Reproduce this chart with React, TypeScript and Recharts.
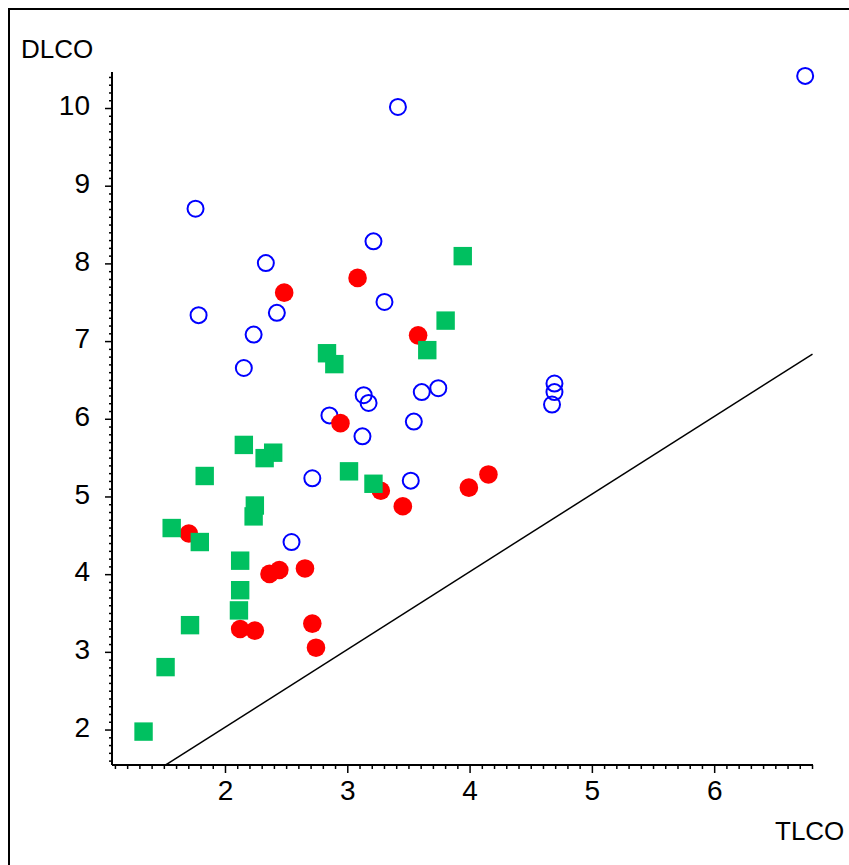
import React from 'react';
import { ScatterChart, Scatter, XAxis, YAxis, ReferenceLine } from 'recharts';

// open circles (blue)
const openTlco = [6.74, 3.41, 1.755, 3.21, 2.33, 3.3, 1.78, 2.42, 2.23, 2.15, 4.69, 4.69, 3.74, 3.605, 4.67, 3.13, 3.17, 2.85, 3.54, 3.12, 2.71, 3.515, 2.54];
const openDlco = [10.42, 10.02, 8.71, 8.29, 8.01, 7.51, 7.34, 7.37, 7.09, 6.66, 6.46, 6.35, 6.4, 6.35, 6.19, 6.31, 6.21, 6.05, 5.97, 5.78, 5.24, 5.21, 4.42];

// filled circles (red)
const redTlco = [2.48, 3.08, 3.575, 2.94, 3.27, 3.45, 3.99, 4.15, 1.7, 2.36, 2.44, 2.65, 2.12, 2.24, 2.71, 2.74];
const redDlco = [7.63, 7.82, 7.08, 5.95, 5.08, 4.88, 5.12, 5.29, 4.53, 4.01, 4.06, 4.08, 3.3, 3.28, 3.37, 3.06];

// filled squares (green)
const greenTlco = [1.33, 1.51, 1.71, 2.11, 2.12, 2.12, 1.56, 1.79, 2.23, 2.24, 1.83, 2.15, 2.39, 2.32, 2.83, 2.89, 3.01, 3.21, 3.65, 3.8, 3.94];
const greenDlco = [1.98, 2.81, 3.35, 3.54, 3.8, 4.18, 4.6, 4.42, 4.75, 4.89, 5.27, 5.67, 5.57, 5.5, 6.85, 6.71, 5.33, 5.17, 6.89, 7.27, 8.1];

const xDomain = [1.072, 6.804];
const yDomain = [1.55, 10.47];
// diagonal reference line ends (TLCO, DLCO)
const lineTlco = [1.51, 6.8];
const lineDlco = [1.55, 6.84];

const FONT = '"Liberation Sans", Arial, sans-serif';

const openRows = openTlco.map((x, i) => ({ tlco: x, dlco: openDlco[i] }));
const redRows = redTlco.map((x, i) => ({ tlco: x, dlco: redDlco[i] }));
const greenRows = greenTlco.map((x, i) => ({ tlco: x, dlco: greenDlco[i] }));

// 0.1 step ticks, labels only on whole numbers
const xTicks: number[] = [];
for (let i = 11; i <= 68; i++) xTicks.push(i / 10);
const yTicks: number[] = [];
for (let i = 16; i <= 104; i++) yTicks.push(i / 10);

const isWhole = (v: number) => Math.abs(v - Math.round(v)) < 1e-6;

const XTick = (props: any) => {
    const { x, y, payload } = props;
    const major = isWhole(payload.value);
    return (
        <g>
            <line x1={x} y1={y} x2={x} y2={y + (major ? 8 : 4)} stroke="#000" strokeWidth={1.5} />
            {major && (
                <text x={x} y={y + 34.5} textAnchor="middle" fontSize={28} fontFamily={FONT} fill="#000">
                    {Math.round(payload.value)}
                </text>
            )}
        </g>
    );
};

const YTick = (props: any) => {
    const { x, y, payload } = props;
    const major = isWhole(payload.value);
    return (
        <g>
            <line x1={x} y1={y} x2={x - (major ? 7 : 3)} y2={y} stroke="#000" strokeWidth={1.5} />
            {major && (
                <text x={x - 22} y={y + 6.7} textAnchor="end" fontSize={28} fontFamily={FONT} fill="#000">
                    {Math.round(payload.value)}
                </text>
            )}
        </g>
    );
};

const OpenCircle = (p: any) => <circle cx={p.cx} cy={p.cy} r={8} fill="none" stroke="#0000ff" strokeWidth={2} />;
const RedDot = (p: any) => <circle cx={p.cx} cy={p.cy} r={9.3} fill="#ff0000" />;
const GreenSquare = (p: any) => <rect x={p.cx - 9.2} y={p.cy - 9.2} width={18.4} height={18.4} fill="#00c060" />;

export default function App() {
    return (
        <div style={{ position: 'fixed', left: 0, top: 0, width: 849, height: 865, background: '#fff', overflow: 'hidden' }}>
            <div style={{ position: 'absolute', left: 8, top: 8, width: 900, height: 900, border: '2px solid #000', boxSizing: 'border-box' }} />
            <div style={{ position: 'absolute', left: 0, top: 0 }}>
                <ScatterChart width={849} height={865} margin={{ top: 72, left: 52, right: 36, bottom: 70 }}>
                    <XAxis
                        type="number"
                        dataKey="tlco"
                        domain={xDomain}
                        ticks={xTicks}
                        interval={0}
                        tickSize={0}
                        tickMargin={0}
                        tickLine={false}
                        axisLine={{ stroke: '#000', strokeWidth: 2 }}
                        tick={<XTick />}
                        height={30}
                    />
                    <YAxis
                        type="number"
                        dataKey="dlco"
                        domain={yDomain}
                        ticks={yTicks}
                        interval={0}
                        tickSize={0}
                        tickMargin={0}
                        tickLine={false}
                        axisLine={{ stroke: '#000', strokeWidth: 2 }}
                        tick={<YTick />}
                        width={60}
                    />
                    <ReferenceLine
                        segment={[{ x: lineTlco[0], y: lineDlco[0] }, { x: lineTlco[1], y: lineDlco[1] }]}
                        stroke="#000"
                        strokeWidth={1.5}
                        ifOverflow="visible"
                    />
                    <Scatter data={openRows} shape={OpenCircle} isAnimationActive={false} />
                    <Scatter data={redRows} shape={RedDot} isAnimationActive={false} />
                    <Scatter data={greenRows} shape={GreenSquare} isAnimationActive={false} />
                </ScatterChart>
            </div>
            <svg width={849} height={865} style={{ position: 'absolute', left: 0, top: 0, pointerEvents: 'none' }}>
                <text x={21} y={58.3} fontSize={26} fontFamily={FONT} fill="#000">DLCO</text>
                <text x={775} y={840} fontSize={26} fontFamily={FONT} fill="#000">TLCO</text>
            </svg>
        </div>
    );
}
